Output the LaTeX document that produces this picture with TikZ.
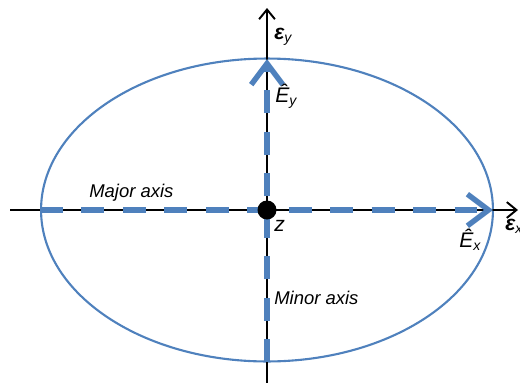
\documentclass[tikz,border=0pt]{standalone}
\usepackage{fontspec}
\setmainfont{Liberation Sans}
\usetikzlibrary{arrows.meta}
\definecolor{axisblue}{HTML}{4F81BD}

\begin{document}
\begin{tikzpicture}[x=0.02cm,y=-0.02cm,font=\itshape,
  axis/.style={black,line width=1.1pt,-{Straight Barb[length=5.5pt,width=9pt]}},
  field/.style={axisblue,line width=3.1pt,dash pattern=on 13pt off 10.6pt,
    -{Straight Barb[length=12pt,width=18pt,line width=3.1pt]}},
  lbl/.style={anchor=west,inner sep=0pt,font=\fontsize{12}{14}\selectfont\itshape},
  note/.style={anchor=west,inner sep=0pt,font=\fontsize{10.5}{12}\selectfont\itshape}]
  \useasboundingbox (0,0) rectangle (520,382);

  \coordinate (O) at (267,210);
  \coordinate (xl) at (10,210);
  \coordinate (xr) at (518,210);
  \coordinate (yb) at (267,385);
  \coordinate (yt) at (267,8);
  \coordinate (ml) at (40,210);
  \coordinate (mr) at (493,210);
  \coordinate (nb) at (267,362);
  \coordinate (nt) at (267,59);

  \draw[axisblue,line width=1.2pt] (O) ellipse [x radius=4.52cm,y radius=3.03cm];

  \draw[axis] (xl) -- (xr);
  \draw[axis] (yb) -- (yt);

  \draw[field] (ml) -- (mr);
  \draw[field] (nb) -- (nt);

  \fill (O) circle [radius=0.19cm];

  % strain axes (the right one runs off the page, as in the figure)
  \node[lbl] (ey) at (274,37) {{\bfseries ε}\textsubscript{y}};
  \node[lbl] (ex) at (505,226) {{\bfseries ε}\textsubscript{x}};
  \node[lbl] (Ey) at (275,96) {Ê\textsubscript{y}};
  \node[lbl] (Ex) at (459,240) {Ê\textsubscript{x}};
  \node[lbl] (z) at (274,226) {z};
  \node[note] (major) at (89,193) {Major axis};
  \node[note] (minor) at (274,298) {Minor axis};
\end{tikzpicture}
\end{document}
